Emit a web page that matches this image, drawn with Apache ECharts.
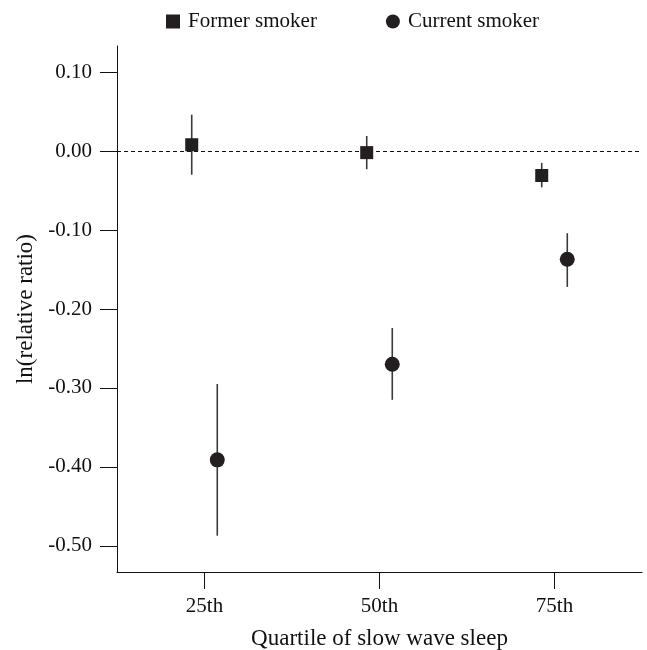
<!DOCTYPE html>
<html>
<head>
<meta charset="utf-8">
<script src="https://cdn.jsdelivr.net/npm/echarts@6/dist/echarts.min.js"></script>
<style>
html, body { margin: 0; padding: 0; background: #fff; }
#chart { width: 647px; height: 650px; }
</style>
</head>
<body>
<div id="chart"></div>
<script>
const categories = ['25th', '50th', '75th'];
const formerEst = [0.008, -0.002, -0.031];
const formerLow = [-0.030, -0.023, -0.046];
const formerHigh = [0.046, 0.019, -0.015];
const currentEst = [-0.391, -0.270, -0.137];
const currentLow = [-0.487, -0.315, -0.172];
const currentHigh = [-0.295, -0.224, -0.104];
const yTicks = [0.10, 0.00, -0.10, -0.20, -0.30, -0.40, -0.50];

const FONT = "'Liberation Serif', 'DejaVu Serif', serif";
const offF = -0.073, offC = 0.073;
const xPos = categories.map((c, i) => i + 1);

const formerPts = xPos.map((x, i) => [x + offF, formerEst[i]]);
const currentPts = xPos.map((x, i) => [x + offC, currentEst[i]]);
const formerCI = xPos.map((x, i) => [x + offF, formerLow[i], formerHigh[i]]);
const currentCI = xPos.map((x, i) => [x + offC, currentLow[i], currentHigh[i]]);

function renderBar(params, api) {
  const x = api.value(0), lo = api.value(1), hi = api.value(2);
  const p1 = api.coord([x, lo]);
  const p2 = api.coord([x, hi]);
  return {
    type: 'line',
    shape: { x1: p1[0], y1: p1[1], x2: p2[0], y2: p2[1] },
    style: { stroke: '#3a3a3a', lineWidth: 1.6 }
  };
}

const chart = echarts.init(document.getElementById('chart'), null, { renderer: 'canvas' });
chart.setOption({
  animation: false,
  backgroundColor: '#fff',
  textStyle: { fontFamily: FONT },
  legend: {
    data: ['Former smoker', 'Current smoker'],
    left: 161,
    top: 6,
    itemWidth: 14,
    itemHeight: 14,
    itemGap: 69,
    textStyle: { fontFamily: FONT, fontSize: 21, color: '#111', padding: [0, 0, 0, 3] }
  },
  grid: { left: 117, right: 5, top: 46, bottom: 78, containLabel: false, outerBoundsMode: 'none' },
  xAxis: {
    type: 'value',
    min: 0.5,
    max: 3.5,
    name: 'Quartile of slow wave sleep',
    nameLocation: 'middle',
    nameGap: 55,
    nameTextStyle: { fontFamily: FONT, fontSize: 23, color: '#111' },
    axisLine: { show: true, onZero: false, lineStyle: { color: '#111', width: 1 } },
    axisTick: { show: true, length: 17, inside: false, customValues: xPos, lineStyle: { color: '#111' } },
    axisLabel: {
      customValues: xPos,
      margin: 24,
      fontFamily: FONT, fontSize: 21, color: '#111',
      formatter: v => categories[Math.round(v) - 1] || ''
    },
    splitLine: { show: false }
  },
  yAxis: {
    type: 'value',
    min: -0.533,
    max: 0.133,
    name: 'ln(relative ratio)',
    nameLocation: 'middle',
    nameGap: 80,
    nameTextStyle: { fontFamily: FONT, fontSize: 23, color: '#111' },
    axisLine: { show: true, onZero: false, lineStyle: { color: '#111', width: 1 } },
    axisTick: { show: true, length: 17, inside: false, customValues: yTicks, lineStyle: { color: '#111' } },
    axisLabel: {
      customValues: yTicks,
      margin: 25,
      fontFamily: FONT, fontSize: 21, color: '#111',
      formatter: v => v.toFixed(2)
    },
    splitLine: { show: false }
  },
  series: [
    {
      name: 'Former CI', type: 'custom', renderItem: renderBar,
      encode: { x: 0, y: [1, 2] }, data: formerCI, z: 2, silent: true
    },
    {
      name: 'Current CI', type: 'custom', renderItem: renderBar,
      encode: { x: 0, y: [1, 2] }, data: currentCI, z: 2, silent: true
    },
    {
      name: 'Former smoker', type: 'scatter', symbol: 'rect', symbolSize: 13,
      itemStyle: { color: '#231f20', opacity: 1 }, data: formerPts, z: 5,
      markLine: {
        silent: true, symbol: 'none', label: { show: false },
        lineStyle: { color: '#111', type: [4, 3], width: 1 },
        data: [{ yAxis: 0 }]
      }
    },
    {
      name: 'Current smoker', type: 'scatter', symbol: 'circle', symbolSize: 15,
      itemStyle: { color: '#231f20', opacity: 1 }, data: currentPts, z: 5
    }
  ]
});
</script>
</body>
</html>
